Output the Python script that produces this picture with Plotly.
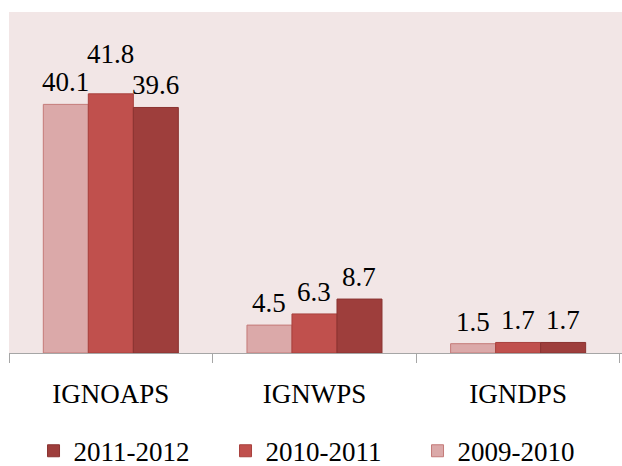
import plotly.graph_objects as go

categories = ["IGNOAPS", "IGNWPS", "IGNDPS"]
series_names = ["2009-2010", "2010-2011", "2011-2012"]
values_2009_2010 = [40.1, 4.5, 1.5]
values_2010_2011 = [41.8, 6.3, 1.7]
values_2011_2012 = [39.6, 8.7, 1.7]

series_values = [values_2009_2010, values_2010_2011, values_2011_2012]
fill_colors = ["#DBA9A9", "#C0504D", "#9E3E3C"]
edge_colors = ["#C47A78", "#A8403D", "#8A3331"]

FONT = "Liberation Serif, Times New Roman, serif"
FONT_SIZE = 27
BAR_GAP = 0.337

# extra upward nudge (px) for the label of the tallest bar so it clears its neighbours
label_lift = {(1, 0): 18}

fig = go.Figure()
for name, vals, fc, ec in zip(series_names, series_values, fill_colors, edge_colors):
    fig.add_trace(go.Bar(
        x=categories,
        y=vals,
        name=name,
        marker=dict(color=fc, line=dict(color=ec, width=1)),
    ))

# value labels above each bar
bar_w = (1 - BAR_GAP) / len(series_values)
for s, vals in enumerate(series_values):
    offset = (s - (len(series_values) - 1) / 2) * bar_w
    for c, v in enumerate(vals):
        fig.add_annotation(
            x=c + offset,
            y=v,
            xref="x",
            yref="y",
            text=f"{v:.1f}",
            showarrow=False,
            yanchor="bottom",
            xanchor="center",
            yshift=5 + label_lift.get((s, c), 0),
            font=dict(family=FONT, size=FONT_SIZE, color="#000000"),
        )

fig.update_layout(
    width=622,
    height=466,
    margin=dict(l=9, r=0, t=12, b=113, autoexpand=False),
    paper_bgcolor="#FFFFFF",
    plot_bgcolor="#F2E6E6",
    barmode="group",
    bargap=BAR_GAP,
    bargroupgap=0,
    font=dict(family=FONT, size=FONT_SIZE, color="#000000"),
    showlegend=True,
    legend=dict(
        orientation="h",
        traceorder="reversed",
        x=0.040,
        xanchor="left",
        y=-0.288,
        yanchor="middle",
        font=dict(family=FONT, size=FONT_SIZE, color="#000000"),
        entrywidth=147,
        entrywidthmode="pixels",
        itemwidth=30,
        bgcolor="rgba(0,0,0,0)",
    ),
    xaxis=dict(
        range=[-0.5, 2.51],
        showline=True,
        linecolor="#A6A6A6",
        linewidth=1,
        ticks="outside",
        tickson="boundaries",
        ticklen=9,
        tickcolor="#A6A6A6",
        ticklabelstandoff=17,
        tickfont=dict(family=FONT, size=FONT_SIZE, color="#000000"),
        showgrid=False,
        zeroline=False,
    ),
    yaxis=dict(
        range=[0, 55],
        showticklabels=False,
        showgrid=False,
        zeroline=False,
        showline=False,
        ticks="",
    ),
)

fig.write_html("out.html")
